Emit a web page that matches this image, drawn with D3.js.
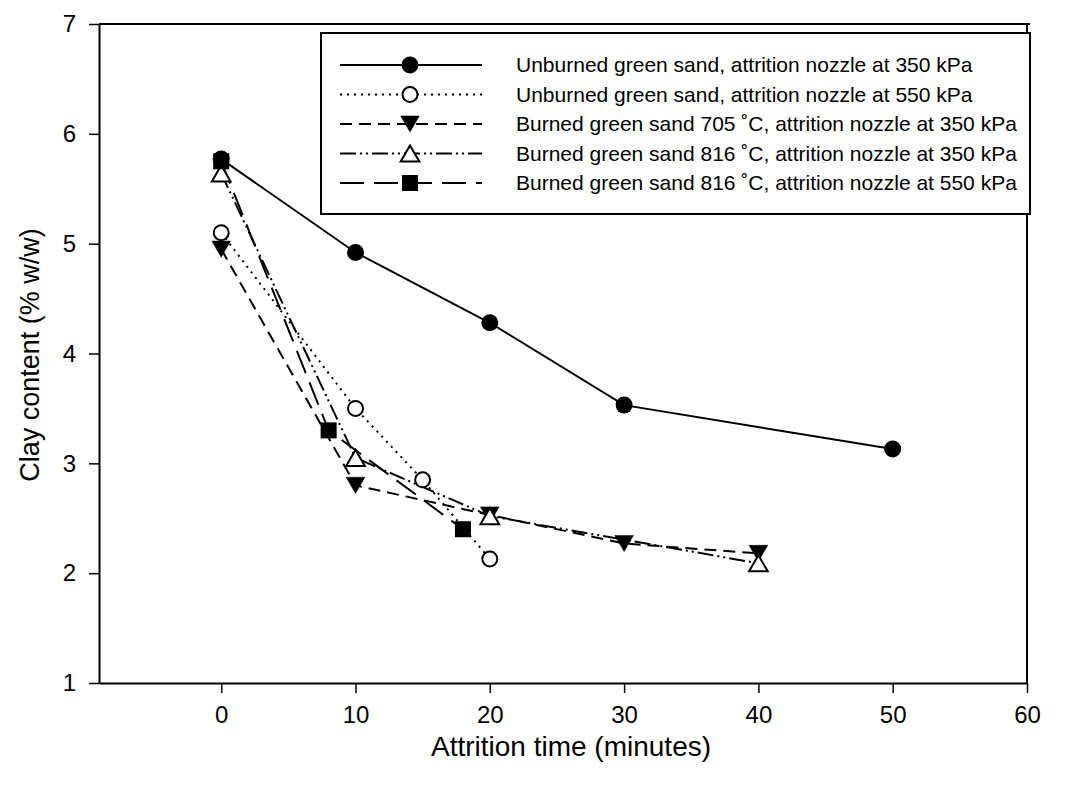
<!DOCTYPE html>
<html>
<head>
<meta charset="utf-8">
<script src="https://cdn.jsdelivr.net/npm/d3@7"></script>
<style>
  body { margin: 0; background: #fff; }
  svg { display: block; font-family: "Liberation Sans", Arial, sans-serif; }
</style>
</head>
<body>
<svg id="chart" width="1074" height="787"></svg>
<script>
// ---- data ----
const seriesNames = [
  "Unburned green sand, attrition nozzle at 350 kPa",
  "Unburned green sand, attrition nozzle at 550 kPa",
  "Burned green sand 705 \u02DAC, attrition nozzle at 350 kPa",
  "Burned green sand 816 \u02DAC, attrition nozzle at 350 kPa",
  "Burned green sand 816 \u02DAC, attrition nozzle at 550 kPa"
];
const timesUnburned350 = [0, 10, 20, 30, 50];
const clayUnburned350  = [5.77, 4.92, 4.28, 3.53, 3.13];
const timesUnburned550 = [0, 10, 15, 20];
const clayUnburned550  = [5.10, 3.50, 2.85, 2.13];
const timesBurned705   = [0, 10, 20, 30, 40];
const clayBurned705    = [4.95, 2.80, 2.53, 2.27, 2.18];
const timesBurned816a  = [0, 10, 20, 40];
const clayBurned816a   = [5.64, 3.05, 2.52, 2.09];
const timesBurned816b  = [0, 8, 18];
const clayBurned816b   = [5.75, 3.30, 2.40];
const xTicks = [0, 10, 20, 30, 40, 50, 60];
const yTicks = [1, 2, 3, 4, 5, 6, 7];
const xLabel = "Attrition time (minutes)";
const yLabel = "Clay content (% w/w)";

// ---- styles per series ----
const styles = [
  {marker: "circle",   fill: "#000", dash: null},
  {marker: "circle",   fill: "#fff", dash: "2,5"},
  {marker: "triDown",  fill: "#000", dash: "12,7"},
  {marker: "triUp",    fill: "#fff", dash: "16,4,2,4,2,4"},
  {marker: "square",   fill: "#000", dash: "24,10"}
];
const series = [
  [timesUnburned350, clayUnburned350],
  [timesUnburned550, clayUnburned550],
  [timesBurned705, clayBurned705],
  [timesBurned816a, clayBurned816a],
  [timesBurned816b, clayBurned816b]
].map(([t, v], i) => ({name: seriesNames[i], style: styles[i], pts: t.map((x, j) => ({x, y: v[j]}))}));

const svg = d3.select("#chart");
const x = d3.scaleLinear().domain([-9.1, 60]).range([99, 1027]);
const y = d3.scaleLinear().domain([1, 7]).range([683, 24]);

// frame
svg.append("line").attr("x1", 99).attr("x2", 1030).attr("y1", 24).attr("y2", 24).attr("stroke", "#000").attr("stroke-width", 2);
svg.append("line").attr("x1", 1027).attr("x2", 1027).attr("y1", 24).attr("y2", 683).attr("stroke", "#000").attr("stroke-width", 2);

// axes
const fmt = d3.format("d");
const xAxis = svg.append("g").attr("transform", "translate(0,683)")
  .call(d3.axisBottom(x).tickValues(xTicks).tickFormat(fmt).tickSize(10).tickPadding(13).tickSizeOuter(0));
const yAxis = svg.append("g").attr("transform", "translate(99,0)")
  .call(d3.axisLeft(y).tickValues(yTicks).tickFormat(fmt).tickSize(10).tickPadding(13).tickSizeOuter(0));
[xAxis, yAxis].forEach(g => {
  g.attr("font-size", 24).attr("font-family", "'Liberation Sans', Arial, sans-serif");
  g.select(".domain").attr("stroke", "#000").attr("stroke-width", 2);
  g.selectAll(".tick line").attr("stroke", "#000").attr("stroke-width", 1.5);
  g.selectAll(".tick text").attr("fill", "#000");
});

svg.append("text").attr("x", 571).attr("y", 756).attr("text-anchor", "middle")
  .style("font-size", "28px").text(xLabel);
svg.append("text").attr("transform", "translate(39,355) rotate(-90)").attr("text-anchor", "middle")
  .style("font-size", "27px").text(yLabel);

// marker drawing
function drawMarker(g, type, fill, cx, cy, size) {
  const stroke = "#000";
  if (type === "circle") {
    g.append("circle").attr("cx", cx).attr("cy", cy).attr("r", size / 2 - (fill === "#fff" ? 1 : 0))
      .attr("fill", fill).attr("stroke", stroke).attr("stroke-width", fill === "#fff" ? 2 : 0);
  } else if (type === "square") {
    const s = size - 1;
    g.append("rect").attr("x", cx - s / 2).attr("y", cy - s / 2).attr("width", s).attr("height", s)
      .attr("fill", fill);
  } else {
    const h = size * 0.95, w = size * 1.1;
    const pts = type === "triUp"
      ? [[cx, cy - h / 2], [cx + w / 2, cy + h / 2], [cx - w / 2, cy + h / 2]]
      : [[cx, cy + h / 2], [cx + w / 2, cy - h / 2], [cx - w / 2, cy - h / 2]];
    g.append("polygon").attr("points", pts.map(p => p.join(",")).join(" "))
      .attr("fill", fill).attr("stroke", stroke).attr("stroke-width", fill === "#fff" ? 2 : 0.5)
      .attr("stroke-linejoin", "miter");
  }
}

const line = d3.line().x(d => x(d.x)).y(d => y(d.y));
const plot = svg.append("g");
series.forEach(s => {
  plot.append("path").datum(s.pts).attr("d", line).attr("fill", "none")
    .attr("stroke", "#000").attr("stroke-width", 2)
    .attr("stroke-dasharray", s.style.dash);
});
series.forEach(s => {
  const g = plot.append("g");
  s.pts.forEach(p => drawMarker(g, s.style.marker, s.style.fill, x(p.x), y(p.y), 17));
});

// legend
const legend = svg.append("g");
legend.append("rect").attr("x", 321).attr("y", 33).attr("width", 709).attr("height", 181)
  .attr("fill", "#fff").attr("stroke", "#000").attr("stroke-width", 2);
const rowY = d3.scalePoint().domain(d3.range(series.length)).range([65, 183]);
series.forEach((s, i) => {
  const yy = rowY(i);
  legend.append("line").attr("x1", 340).attr("x2", 482).attr("y1", yy).attr("y2", yy)
    .attr("stroke", "#000").attr("stroke-width", 2).attr("stroke-dasharray", s.style.dash);
  drawMarker(legend, s.style.marker, s.style.fill, 410, yy, 17);
  legend.append("text").attr("x", 516).attr("y", yy).attr("dy", "0.35em")
    .style("font-size", "21px").text(s.name);
});
</script>
</body>
</html>
